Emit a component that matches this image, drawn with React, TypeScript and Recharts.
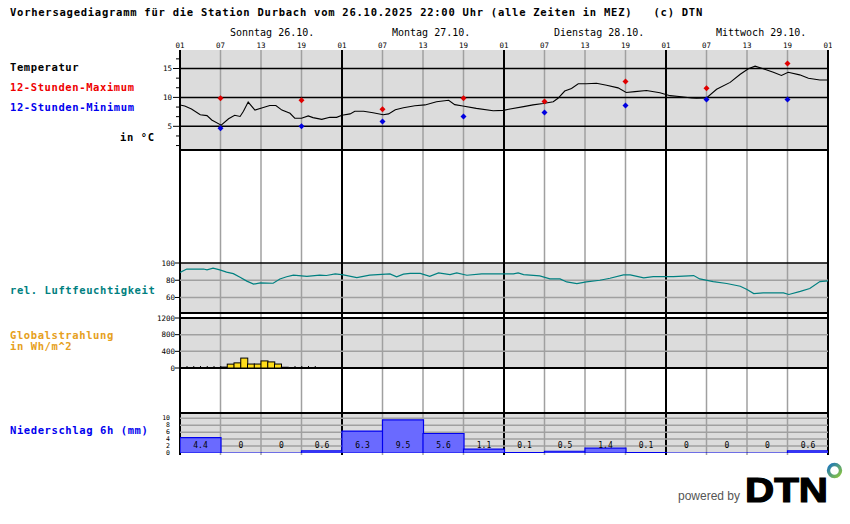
import React from 'react'
import {
  Bar,
  CartesianGrid,
  ComposedChart,
  Line,
  ReferenceLine,
  Scatter,
  XAxis,
  YAxis,
} from 'recharts'

const MONO = '"DejaVu Sans Mono", "Liberation Mono", monospace'

// zeitachse in stunden ab So 26.10. 01:00
const hourTicks = [0, 6, 12, 18, 24, 30, 36, 42, 48, 54, 60, 66, 72, 78, 84, 90, 96]
const hourLabels = ['01', '07', '13', '19', '01', '07', '13', '19', '01', '07', '13', '19', '01', '07', '13', '19', '01']
const dayTicks = [0, 24, 48, 72]
const dayLabels = ['Sonntag 26.10.', 'Montag 27.10.', 'Dienstag 28.10.', 'Mittwoch 29.10.']
const gridTicks = [6, 12, 18, 30, 36, 42, 54, 60, 66, 78, 84, 90]
const dayLines = [0, 24, 48, 72, 96]

// temperatur
const tempTicks = [1.67, 3.33, 5, 6.67, 8.33, 10, 11.67, 13.33, 15, 16.67]
const tempTimes = [
  0, 0.7, 1.7, 3, 4, 4.7, 6.1, 7.2, 8.1, 8.9, 9.4, 10.1, 11.1, 12.1, 13.3, 14.2, 15.1, 16.3, 17, 18,
  19, 19.7, 21, 22.2, 23.2, 24, 25.2, 25.9, 27.2, 28.6, 30.1, 30.9, 31.9, 33.1, 34.8, 36.3, 38, 39.8,
  40.7, 41.9, 43.9, 46.4, 47.9, 48.9, 50.9, 52.3, 53.8, 55.3, 56, 57, 58, 59, 60.2, 61.7, 63.2, 64.9,
  66.1, 67.4, 69.1, 71.1, 72.6, 74.3, 75.8, 76.5, 78, 79.5, 81.5, 83, 84.2, 85.2, 86.4, 87.9, 89.1,
  90.1, 91.8, 93.1, 94.8, 96,
]
const tempValues = [
  8.7, 8.5, 8.0, 7.0, 6.85, 6.1, 5.2, 6.3, 6.9, 6.7, 7.6, 9.2, 7.8, 8.15, 8.6, 8.6, 7.8, 7.25, 6.4, 6.4,
  6.8, 6.5, 6.2, 6.55, 6.55, 6.9, 7.15, 7.6, 7.6, 7.35, 7.0, 7.15, 7.85, 8.2, 8.55, 8.7, 9.25, 9.5,
  8.75, 8.5, 8.1, 7.7, 7.75, 8.0, 8.4, 8.7, 8.95, 9.25, 9.85, 11.1, 11.55, 12.35, 12.35, 12.45, 12.1, 11.65,
  10.85, 11.0, 11.2, 10.8, 10.3, 10.1, 9.9, 9.85, 9.9, 11.4, 12.6, 14.0, 14.95, 15.4, 14.95, 14.35, 13.8,
  14.35, 13.9, 13.3, 13.0, 13.0,
]
const extremeTimes = [6, 18, 30, 42, 54, 66, 78, 90]
const maxValues = [9.85, 9.5, 7.95, 9.85, 9.3, 12.75, 11.6, 15.85]
const minValues = [4.65, 5.0, 5.85, 6.7, 7.4, 8.6, 9.65, 9.65]

// rel. luftfeuchtigkeit
const humTicks = [60, 80, 100]
const humTimes = [
  0, 1, 3.5, 4, 4.9, 5.9, 6.9, 7.9, 8.9, 9.9, 10.9, 11.9, 13.8, 14.8, 15.8, 16.8, 18.8, 20.7, 21.7, 23,
  24.2, 26.2, 28.1, 31.1, 32.1, 33.1, 34.1, 35.6, 37, 38.3, 40, 41, 42.5, 44.7, 49.4, 50.1, 50.9, 53.3,
  54.8, 56.3, 57.3, 58.8, 60.2, 62.2, 63.7, 65.7, 66.7, 68.7, 70.1, 73.1, 76.1, 77, 79, 81, 83, 84, 85,
  86.4, 89.4, 90.2, 91.9, 93.3, 94.8, 96,
]
const humValues = [
  89, 93, 93, 92, 94, 92, 89.5, 87.7, 83.5, 79, 75.5, 77, 76.5, 81.5, 84, 86, 84.5, 86, 85.5, 87.3,
  86.2, 83, 86, 87.3, 84, 87, 88, 88, 84.5, 88.5, 86.5, 88.5, 85.8, 87.3, 87.3, 88.5, 86.5, 85,
  81.5, 81.5, 78, 76, 78, 80, 82.3, 86.2, 86.2, 82.7, 84.2, 84.2, 85.4, 81.5, 78.5, 76.2, 73, 69.2, 64.6,
  65.4, 65.4, 63.5, 67, 70.4, 78.5, 79.2,
]

// globalstrahlung (stuendlich)
const radTicks = [0, 400, 800, 1200]
const radHours = [0, 1, 2, 3, 4, 5, 6, 7, 8, 9, 10, 11, 12, 13, 14, 15, 16, 17, 18, 19]
const radValues = [0, 0, 0, 0, 0, 0, 22, 93, 123, 238, 95, 95, 170, 146, 95, 18, 0, 0, 0, 0]

// niederschlag 6h
const rainTicks = [0, 2, 4, 6, 8, 10]
const rainStarts = [0, 6, 12, 18, 24, 30, 36, 42, 48, 54, 60, 66, 72, 78, 84, 90]
const rainValues = [4.4, 0, 0, 0.6, 6.3, 9.5, 5.6, 1.1, 0.1, 0.5, 1.4, 0.1, 0, 0, 0, 0.6]

const tempData = tempTimes.map((t, i) => ({ t, v: tempValues[i] }))
const maxData = extremeTimes.map((t, i) => ({ t, v: maxValues[i] }))
const minData = extremeTimes.map((t, i) => ({ t, v: minValues[i] }))
const humData = humTimes.map((t, i) => ({ t, v: humValues[i] }))
const radData = radHours.map((h, i) => ({ t: h + 0.5, v: radValues[i] }))
const rainData = rainStarts.map((h, i) => ({ t: h + 3, v: rainValues[i] }))
const frameData = hourTicks.map((t) => ({ t, v: 0.5 }))

const LEFT = 150
const AXIS_W = 30
const PLOT_W = 648
const PAD_R = 4
const PAD_V = 8
const CHART_W = AXIS_W + PLOT_W + PAD_R
const PANEL_M = { top: PAD_V, right: PAD_R, bottom: PAD_V, left: 0 }
const GRAY_BG = '#dcdcdc'
const GRID = '#a0a0a0'

const vLines = () => [
  ...gridTicks.map((t) => (
    <ReferenceLine key={`g${t}`} x={t} stroke={GRID} strokeWidth={1.5} zIndex={-60} />
  )),
  ...dayLines.map((t) => (
    <ReferenceLine key={`d${t}`} x={t} stroke="#000" strokeWidth={2} zIndex={-55} />
  )),
]

const hLine = (y: number, color: string, w = 1.5) => (
  <ReferenceLine key={`h${y}${color}`} y={y} stroke={color} strokeWidth={w} zIndex={-50} />
)

function HourTick(p: any) {
  const i = hourTicks.indexOf(p.payload.value)
  return (
    <text x={p.x} y={p.y - 2.5} textAnchor="middle" fontSize={7.5} fontFamily={MONO} fill="#000">
      {hourLabels[i]}
    </text>
  )
}

function DayTick(p: any) {
  const i = dayTicks.indexOf(p.payload.value)
  return (
    <text x={p.x + 50} y={p.y - 2} fontSize={10} fontFamily={MONO} fill="#000">
      {dayLabels[i]}
    </text>
  )
}

function TempTick(p: any) {
  const major = Number.isInteger(p.payload.value)
  return (
    <g>
      <line x1={p.x - (major ? 7 : 4)} x2={p.x} y1={p.y} y2={p.y} stroke="#000" />
      {major && (
        <text x={p.x - 8} y={p.y + 2.7} textAnchor="end" fontSize={7.5} fontFamily={MONO} fill="#000">
          {p.payload.value}
        </text>
      )}
    </g>
  )
}

function SideTick(p: any) {
  return (
    <g>
      <line x1={p.x - 5} x2={p.x} y1={p.y} y2={p.y} stroke="#000" />
      <text x={p.x - 5} y={p.y + 2.7} textAnchor="end" fontSize={7.5} fontFamily={MONO} fill="#000">
        {p.payload.value}
      </text>
    </g>
  )
}

function RainTick(p: any) {
  return (
    <text x={p.x - 10} y={p.y + 2.2} textAnchor="end" fontSize={6.5} fontFamily={MONO} fill="#000">
      {p.payload.value}
    </text>
  )
}

const marker = (color: string) => (p: any) => (
  <path
    d={`M${p.cx},${p.cy - 3}L${p.cx + 3},${p.cy}L${p.cx},${p.cy + 3}L${p.cx - 3},${p.cy}Z`}
    fill={color}
  />
)

function RadBar(p: any) {
  const { x, y, width, height, value } = p
  if (!value) {
    return <line x1={x + width} x2={x + width} y1={y + (height || 0) - 2} y2={y + (height || 0)} stroke="#000" />
  }
  return <rect x={x} y={y} width={width} height={height} fill="#ffdd1a" stroke="#000" strokeWidth={1} />
}

function RainBar(p: any) {
  const { x, y, width, height, value } = p
  const h = Math.max(height || 0, 0)
  const label = value === 0 ? '0' : Number(value).toFixed(1)
  return (
    <g>
      <path d={`M${x},${y}h${width}v${h}h${-width}Z`} fill="#6a6aff" stroke="#0000ee" strokeWidth={1.2} />
      <text x={x + width / 2} y={y + h - 5.5} textAnchor="middle" fontSize={8} fontFamily={MONO} fill="#000">
        {label}
      </text>
    </g>
  )
}

function Labels() {
  const t = { fontFamily: MONO, fontWeight: 'bold' as const, fontSize: 10.5, letterSpacing: 0.6 }
  return (
    <svg width={850} height={524} style={{ position: 'absolute', left: 0, top: 0 }}>
      <defs>
        <linearGradient id="ring" x1="0" y1="0" x2="1" y2="1">
          <stop offset="0" stopColor="#1b75bc" />
          <stop offset="1" stopColor="#8cc63f" />
        </linearGradient>
      </defs>
      <text x={10} y={16} {...t} letterSpacing={0.75} style={{ whiteSpace: 'pre' }}>
        {'Vorhersagediagramm für die Station Durbach vom 26.10.2025 22:00 Uhr (alle Zeiten in MEZ)   (c) DTN'}
      </text>
      <text x={10} y={71} {...t} fill="#000">Temperatur</text>
      <text x={10} y={91} {...t} fill="#ee0000">12-Stunden-Maximum</text>
      <text x={10} y={111} {...t} fill="#0000ee">12-Stunden-Minimum</text>
      <text x={120} y={141} {...t} fill="#000">in °C</text>
      <text x={10} y={294} {...t} fill="#008080">rel. Luftfeuchtigkeit</text>
      <text x={10} y={338.5} {...t} fill="#e6a020">Globalstrahlung</text>
      <text x={10} y={350} {...t} fill="#e6a020">in Wh/m^2</text>
      <text x={10} y={434} {...t} fill="#0000ee">Niederschlag 6h (mm)</text>
      <text x={678} y={500} fontFamily='"Liberation Sans", Arial, sans-serif' fontSize={12} fill="#555">
        powered by
      </text>
      <text
        x={745}
        y={501.5}
        fontFamily='"Liberation Sans", Arial, sans-serif'
        fontWeight="bold"
        fontSize={35}
        textLength={83}
        lengthAdjust="spacingAndGlyphs"
        fill="#000"
        stroke="#000"
        strokeWidth={1.2}
      >
        DTN
      </text>
      <circle cx={834.5} cy={470.5} r={6} fill="none" stroke="url(#ring)" strokeWidth={3.4} />
    </svg>
  )
}

const xHidden = (
  <XAxis type="number" dataKey="t" domain={[0, 96]} hide allowDataOverflow />
)

export default function App() {
  return (
    <div style={{ position: 'absolute', left: 0, top: 0, width: 850, height: 524, background: '#fff', overflow: 'hidden' }}>
      <Labels />

      {/* senkrechte linien ueber die ganze hoehe + zeitachse oben */}
      <div style={{ position: 'absolute', left: LEFT, top: 24 }}>
        <ComposedChart width={CHART_W} height={433} data={frameData} margin={{ top: 0, right: PAD_R, bottom: 2, left: 0 }}>
          <XAxis
            type="number"
            dataKey="t"
            domain={[0, 96]}
            orientation="top"
            ticks={hourTicks}
            interval={0}
            height={12}
            tickSize={0}
            tickMargin={0}
            axisLine={false}
            tickLine={false}
            tick={HourTick}
            allowDataOverflow
          />
          <XAxis
            xAxisId="day"
            type="number"
            dataKey="t"
            domain={[0, 96]}
            orientation="top"
            ticks={dayTicks}
            interval={0}
            height={14}
            tickSize={0}
            tickMargin={0}
            axisLine={false}
            tickLine={false}
            tick={DayTick}
            allowDataOverflow
          />
          <YAxis width={AXIS_W} type="number" domain={[0, 1]} tick={false} axisLine={false} tickLine={false} allowDataOverflow />
          {vLines()}
          <Line dataKey="v" stroke="none" dot={false} isAnimationActive={false} />
        </ComposedChart>
      </div>

      {/* temperatur */}
      <div style={{ position: 'absolute', left: LEFT, top: 50 - PAD_V }}>
        <ComposedChart width={CHART_W} height={100 + 2 * PAD_V} margin={PANEL_M}>
          <CartesianGrid fill={GRAY_BG} fillOpacity={1} horizontal={false} vertical={false} stroke="none" />
          {xHidden}
          <YAxis
            type="number"
            domain={[0.9, 18.2]}
            width={AXIS_W}
            ticks={tempTicks}
            interval={0}
            tick={TempTick}
            tickSize={0}
            tickMargin={0}
            tickLine={false}
            axisLine={false}
            allowDataOverflow
          />
          {vLines()}
          {[5, 10, 15].map((v) => hLine(v, '#000'))}
          {hLine(0.9, '#000', 2)}
          <Line data={tempData} dataKey="v" type="linear" stroke="#000" strokeWidth={1.1} dot={false} isAnimationActive={false} />
          <Scatter data={maxData} dataKey="v" shape={marker('#e00000')} isAnimationActive={false} />
          <Scatter data={minData} dataKey="v" shape={marker('#0000e0')} isAnimationActive={false} />
        </ComposedChart>
      </div>

      {/* luftfeuchtigkeit */}
      <div style={{ position: 'absolute', left: LEFT, top: 263 - PAD_V }}>
        <ComposedChart width={CHART_W} height={50 + 2 * PAD_V} margin={PANEL_M}>
          <CartesianGrid fill={GRAY_BG} fillOpacity={1} horizontal={false} vertical={false} stroke="none" />
          {xHidden}
          <YAxis
            type="number"
            domain={[42, 100]}
            width={AXIS_W}
            ticks={humTicks}
            interval={0}
            tick={SideTick}
            tickSize={0}
            tickMargin={0}
            tickLine={false}
            axisLine={false}
            allowDataOverflow
          />
          {vLines()}
          {hLine(60, GRID)}
          {hLine(80, GRID)}
          {hLine(100, '#000')}
          {hLine(42, '#000', 2)}
          <Line data={humData} dataKey="v" type="linear" stroke="#008080" strokeWidth={1.2} dot={false} isAnimationActive={false} />
        </ComposedChart>
      </div>

      {/* globalstrahlung */}
      <div style={{ position: 'absolute', left: LEFT, top: 318 - PAD_V }}>
        <ComposedChart width={CHART_W} height={50 + 2 * PAD_V} data={radData} margin={PANEL_M} barCategoryGap={0} barGap={0}>
          <CartesianGrid fill={GRAY_BG} fillOpacity={1} horizontal={false} vertical={false} stroke="none" />
          {xHidden}
          <YAxis
            type="number"
            domain={[0, 1200]}
            width={AXIS_W}
            ticks={radTicks}
            interval={0}
            tick={SideTick}
            tickSize={0}
            tickMargin={0}
            tickLine={false}
            axisLine={false}
            allowDataOverflow
          />
          {vLines()}
          {hLine(400, GRID)}
          {hLine(800, GRID)}
          {hLine(1200, '#000', 2)}
          {hLine(0, '#000', 2)}
          <Bar dataKey="v" shape={RadBar} isAnimationActive={false} />
        </ComposedChart>
      </div>

      {/* niederschlag */}
      <div style={{ position: 'absolute', left: LEFT, top: 413 - PAD_V }}>
        <ComposedChart width={CHART_W} height={40 + 2 * PAD_V} data={rainData} margin={PANEL_M} barCategoryGap={0} barGap={0}>
          <CartesianGrid fill={GRAY_BG} fillOpacity={1} horizontal={false} vertical={false} stroke="none" />
          {xHidden}
          <YAxis
            type="number"
            domain={[0, 11.5]}
            width={AXIS_W}
            ticks={rainTicks}
            interval={0}
            tick={RainTick}
            tickSize={0}
            tickMargin={0}
            tickLine={false}
            axisLine={false}
            allowDataOverflow
          />
          {vLines()}
          {[2, 4, 6, 8, 10].map((v) => hLine(v, GRID))}
          {hLine(11.5, '#000', 2)}
          <Bar dataKey="v" shape={RainBar} isAnimationActive={false} />
        </ComposedChart>
      </div>
    </div>
  )
}
